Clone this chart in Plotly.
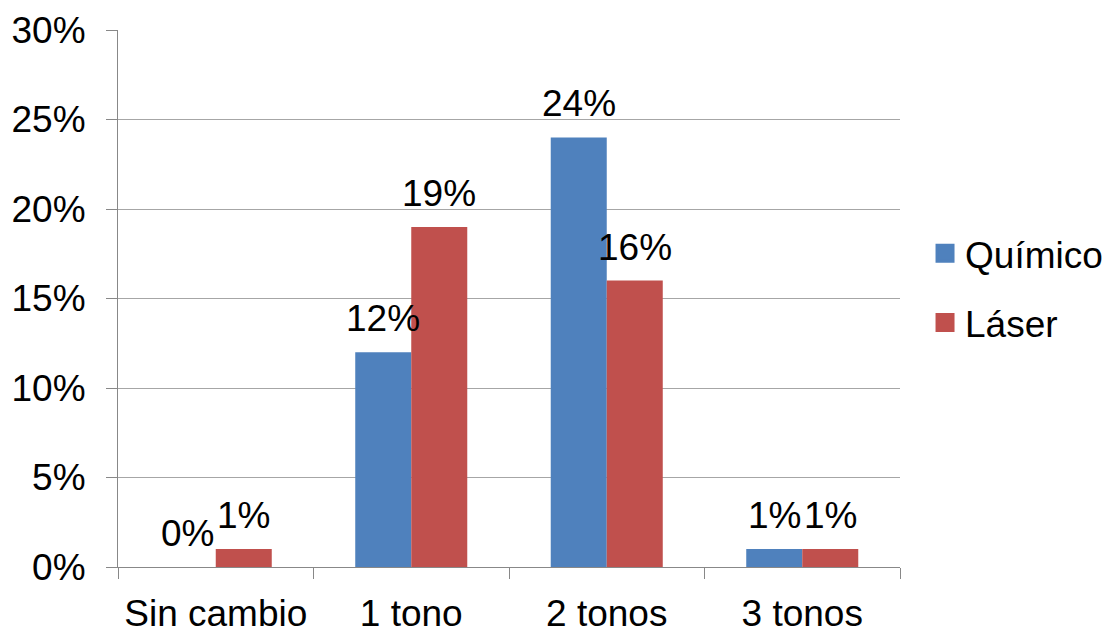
import plotly.graph_objects as go

categories = ["Sin cambio", "1 tono", "2 tonos", "3 tonos"]
quimico = [0, 12, 24, 1]
laser = [1, 19, 16, 1]
series_names = ["Químico", "Láser"]
colors = ["#4F81BD", "#C0504D"]
y_ticks = [0, 5, 10, 15, 20, 25, 30]
y_tick_labels = ["0%", "5%", "10%", "15%", "20%", "25%", "30%"]

FONT = "Liberation Sans, Arial, sans-serif"
FS = 37

fig = go.Figure()
for name, vals, col in zip(series_names, [quimico, laser], colors):
    fig.add_trace(go.Bar(x=categories, y=vals, name=name, marker=dict(color=col, line=dict(width=0)),
                         showlegend=False))
# legend proxies
for i, (name, col) in enumerate(zip(series_names, colors)):
    fig.add_trace(go.Scatter(x=[None], y=[None], mode="markers", name=name, legendgroup=f"g{i}",
                             marker=dict(symbol="square", size=16, color=col, line=dict(color=col, width=3))))

# data labels
half = 28
for vals, sgn in zip([quimico, laser], [-1, 1]):
    for c, v in zip(categories, vals):
        fig.add_annotation(x=c, y=v, text=f"{v}%", showarrow=False, xshift=sgn * half,
                           yanchor="bottom", yshift=11, font=dict(family=FONT, size=FS, color="black"))

fig.update_layout(
    width=1104, height=635,
    margin=dict(l=118, r=204, t=30, b=68, autoexpand=False),
    paper_bgcolor="white", plot_bgcolor="white",
    barmode="group", bargap=0.427, bargroupgap=0,
    font=dict(family=FONT, size=FS, color="black"),
    legend=dict(x=1.032, xanchor="left", y=0.519, yanchor="middle", traceorder="grouped",
                tracegroupgap=18, font=dict(family=FONT, size=FS, color="black")),
)
fig.update_xaxes(showline=True, linecolor="#888888", linewidth=1, ticks="outside", tickson="boundaries",
                 ticklen=11, tickcolor="#888888", showgrid=False, ticklabelstandoff=14, automargin=False)
fig.update_yaxes(range=[0, 30], tickvals=y_ticks, ticktext=y_tick_labels, showline=True,
                 linecolor="#888888", linewidth=1, ticks="outside", ticklen=11, tickcolor="#888888",
                 showgrid=True, gridcolor="#A6A6A6", zeroline=False, ticklabelstandoff=13, automargin=False)

fig.write_html("out.html")
